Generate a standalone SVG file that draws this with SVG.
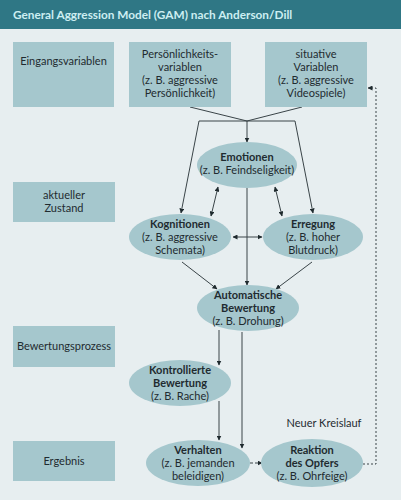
<svg xmlns="http://www.w3.org/2000/svg" width="401" height="500" viewBox="0 0 401 500">
<defs>
<marker id="ah" viewBox="0 0 10 10" refX="9" refY="5" markerWidth="5" markerHeight="5" orient="auto-start-reverse">
<path d="M0,0 L10,5 L0,10 z" fill="#1f2a2e"/>
</marker>
<style>
.box{fill:#a5c7cd}
.ell{fill:#a5c7cd}
.t{font-family:Lato,"Liberation Sans",sans-serif;font-size:11px;fill:#1f2b30;text-anchor:middle}
.b{font-weight:bold}
.ln{stroke:#3a4448;stroke-width:1;fill:none}
.arr{marker-end:url(#ah)}
.dbl{marker-start:url(#ah);marker-end:url(#ah)}
.dash{stroke-dasharray:3,2}
.dot{stroke-dasharray:2,2}
</style>
</defs>
<rect x="0" y="0" width="401" height="500" fill="#e7eef0"/>
<rect x="0" y="0" width="401" height="29" fill="#2f7785"/>
<text x="13" y="19" style="font-family:Lato,'Liberation Sans',sans-serif;font-size:11.8px;font-weight:bold;fill:#cdeef2">General Aggression Model (GAM) nach Anderson/Dill</text>

<g id="connectors">
<line class="ln" x1="190" y1="107" x2="247" y2="121"/>
<line class="ln" x1="302" y1="107" x2="247" y2="121"/>
<line class="ln" x1="199" y1="121" x2="295" y2="121"/>
<line class="ln arr" x1="247" y1="121" x2="247" y2="142"/>
<line class="ln arr" x1="199" y1="121" x2="181" y2="213"/>
<line class="ln arr" x1="295" y1="121" x2="313" y2="213"/>
<line class="ln dbl" x1="218" y1="187" x2="211" y2="216"/>
<line class="ln dbl" x1="275" y1="187" x2="282" y2="216"/>
<line class="ln dbl" x1="233" y1="237" x2="262" y2="237"/>
<line class="ln arr" x1="247" y1="188" x2="247" y2="285"/>
<line class="ln arr" x1="182" y1="262" x2="217" y2="289"/>
<line class="ln arr" x1="312" y1="262" x2="276" y2="289"/>
<line class="ln arr" x1="219" y1="330" x2="219" y2="365"/>
<line class="ln arr" x1="242" y1="332" x2="242" y2="448"/>
<line class="ln arr" x1="219" y1="401" x2="219" y2="440"/>
<line class="ln arr dash" x1="250" y1="463" x2="262" y2="463"/>
<polyline class="ln arr dot" points="363,464 376,464 376,88 368,88"/>
</g>

<g id="n-eingang"><rect class="box" x="13" y="42" width="101" height="65"/><text class="t" x="63.5" y="65">Eingangsvariablen</text></g>
<g id="n-persoenlich"><rect class="box" x="129" y="42" width="102" height="65"/>
<text class="t" x="180" y="58">Persönlichkeits-</text><text class="t" x="180" y="71">variablen</text><text class="t" x="180" y="84">(z. B. aggressive</text><text class="t" x="180" y="97">Persönlichkeit)</text></g>
<g id="n-situativ"><rect class="box" x="265" y="42" width="102" height="65"/>
<text class="t" x="316" y="58">situative</text><text class="t" x="316" y="71">Variablen</text><text class="t" x="316" y="84">(z. B. aggressive</text><text class="t" x="316" y="97">Videospiele)</text></g>

<g id="n-zustand"><rect class="box" x="13" y="182" width="102" height="40"/><text class="t" x="64" y="199">aktueller</text><text class="t" x="64" y="212">Zustand</text></g>
<g id="n-bewprozess"><rect class="box" x="13" y="326" width="102" height="41"/><text class="t" x="64" y="350">Bewertungsprozess</text></g>
<g id="n-ergebnis"><rect class="box" x="13" y="441" width="102" height="40"/><text class="t" x="64" y="465">Ergebnis</text></g>

<g id="n-emotionen"><ellipse class="ell" cx="247" cy="165" rx="50" ry="23"/>
<text class="t b" x="247" y="161">Emotionen</text><text class="t" x="247" y="174">(z. B. Feindseligkeit)</text></g>
<g id="n-kognitionen"><ellipse class="ell" cx="180" cy="237" rx="51" ry="23"/>
<text class="t b" x="180" y="228">Kognitionen</text><text class="t" x="180" y="241">(z. B. aggressive</text><text class="t" x="180" y="254">Schemata)</text></g>
<g id="n-erregung"><ellipse class="ell" cx="313" cy="237" rx="50" ry="23"/>
<text class="t b" x="313" y="228">Erregung</text><text class="t" x="313" y="241">(z. B. hoher</text><text class="t" x="313" y="254">Blutdruck)</text></g>
<g id="n-automatisch"><ellipse class="ell" cx="248" cy="308" rx="51" ry="23"/>
<text class="t b" x="248" y="299">Automatische</text><text class="t b" x="248" y="312">Bewertung</text><text class="t" x="248" y="325">(z. B. Drohung)</text></g>
<g id="n-kontrolliert"><ellipse class="ell" cx="180" cy="383" rx="51" ry="23"/>
<text class="t b" x="180" y="374">Kontrollierte</text><text class="t b" x="180" y="387">Bewertung</text><text class="t" x="180" y="400">(z. B. Rache)</text></g>
<g id="n-verhalten"><ellipse class="ell" cx="198" cy="463" rx="52" ry="23"/>
<text class="t b" x="198" y="454">Verhalten</text><text class="t" x="198" y="467">(z. B. jemanden</text><text class="t" x="198" y="480">beleidigen)</text></g>
<g id="n-reaktion"><ellipse class="ell" cx="312" cy="463" rx="51" ry="24"/>
<text class="t b" x="312" y="454">Reaktion</text><text class="t b" x="312" y="467">des Opfers</text><text class="t" x="312" y="480">(z. B. Ohrfeige)</text></g>

<text class="t" x="324" y="427">Neuer Kreislauf</text>
</svg>
